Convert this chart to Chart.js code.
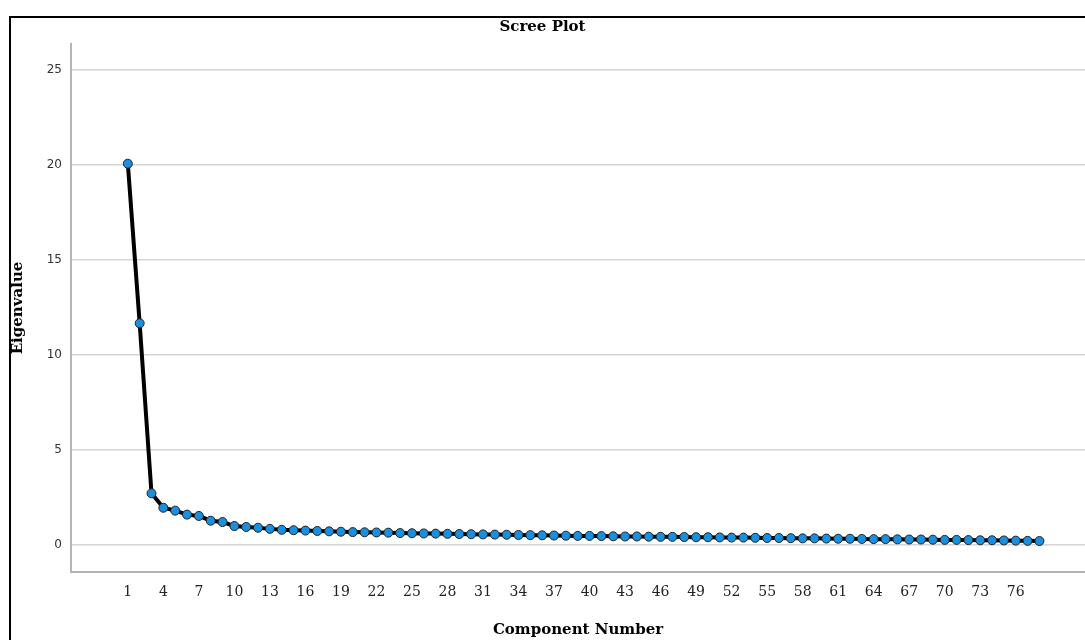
<!DOCTYPE html>
<html>
<head>
<meta charset="utf-8">
<script src="https://cdn.jsdelivr.net/npm/chart.js@4.4.0/dist/chart.umd.min.js"></script>
<style>
  html, body { margin: 0; padding: 0; background: #fff; overflow: hidden; }
  #wrap { position: relative; width: 1085px; height: 640px; }
  #frame { position: absolute; left: 9px; top: 16px; width: 1200px; height: 800px;
           border: 2px solid #000; pointer-events: none; }
</style>
</head>
<body>
<div id="wrap">
  <canvas id="myChart" width="1085" height="640"></canvas>
  <div id="frame"></div>
</div>
<script>
// component numbers and eigenvalues
const components = [];
for (let i = 1; i <= 78; i++) components.push(i);
const eigenvalues = [
  20.07, 11.67, 2.72, 1.96, 1.81, 1.60, 1.53, 1.28, 1.21, 1.00,
  0.95, 0.91, 0.85, 0.80, 0.78, 0.76, 0.74, 0.72, 0.70, 0.68,
  0.67, 0.66, 0.65, 0.63, 0.62, 0.61, 0.60, 0.59, 0.58, 0.57,
  0.56, 0.55, 0.54, 0.53, 0.52, 0.51, 0.50, 0.49, 0.48, 0.48,
  0.47, 0.46, 0.45, 0.45, 0.44, 0.43, 0.43, 0.42, 0.41, 0.41,
  0.40, 0.39, 0.39, 0.38, 0.37, 0.37, 0.36, 0.35, 0.35, 0.34,
  0.33, 0.33, 0.32, 0.31, 0.31, 0.30, 0.29, 0.29, 0.28, 0.27,
  0.27, 0.26, 0.25, 0.25, 0.24, 0.23, 0.22, 0.21
];
const xTickLabels = [1, 4, 7, 10, 13, 16, 19, 22, 25, 28, 31, 34, 37, 40, 43, 46, 49, 52, 55, 58, 61, 64, 67, 70, 73, 76];
const yTickLabels = [0, 5, 10, 15, 20, 25];

const titleFont = { family: 'DejaVu Serif', size: 15, weight: 'bold' };

const ctx = document.getElementById('myChart');
new Chart(ctx, {
  type: 'line',
  data: {
    datasets: [{
      label: 'Eigenvalue',
      data: components.map((c, i) => ({ x: c, y: eigenvalues[i] })),
      borderColor: '#000',
      borderWidth: 4,
      pointRadius: 4.5,
      pointBackgroundColor: '#1a8fe0',
      pointBorderColor: '#222',
      pointBorderWidth: 1,
      tension: 0
    }]
  },
  options: {
    responsive: false,
    animation: false,
    layout: { autoPadding: false, padding: 0 },
    plugins: {
      legend: { display: false },
      tooltip: { enabled: false },
      title: {
        display: true,
        text: 'Scree Plot',
        color: '#000',
        font: titleFont,
        padding: { top: 18, bottom: 8 }
      }
    },
    scales: {
      x: {
        type: 'linear',
        min: -3.8,
        max: 81.85,
        afterBuildTicks: s => { s.ticks = xTickLabels.map(v => ({ value: v })); },
        afterFit: s => { s.height = 68; },
        grid: { display: false, drawTicks: false },
        border: { display: true, color: '#b4b4b4', width: 2 },
        ticks: {
          padding: 12,
          maxRotation: 0,
          autoSkip: false,
          color: '#222',
          font: { family: 'DejaVu Serif', size: 14 }
        },
        title: {
          display: true,
          text: 'Component Number',
          color: '#000',
          font: titleFont,
          padding: { top: 0, bottom: 1 }
        }
      },
      y: {
        min: -1.42,
        max: 26.37,
        afterBuildTicks: s => { s.ticks = yTickLabels.map(v => ({ value: v })); },
        afterFit: s => { s.width = 71; },
        grid: { color: '#d4d4d4', lineWidth: 1.5, drawTicks: false },
        border: { display: true, color: '#b4b4b4', width: 2 },
        ticks: {
          padding: 9,
          color: '#333',
          font: { family: 'DejaVu Sans', size: 12 }
        },
        title: {
          display: true,
          text: 'Eigenvalue',
          color: '#000',
          font: titleFont,
          padding: { top: 9, bottom: 0 }
        }
      }
    }
  }
});
</script>
</body>
</html>
